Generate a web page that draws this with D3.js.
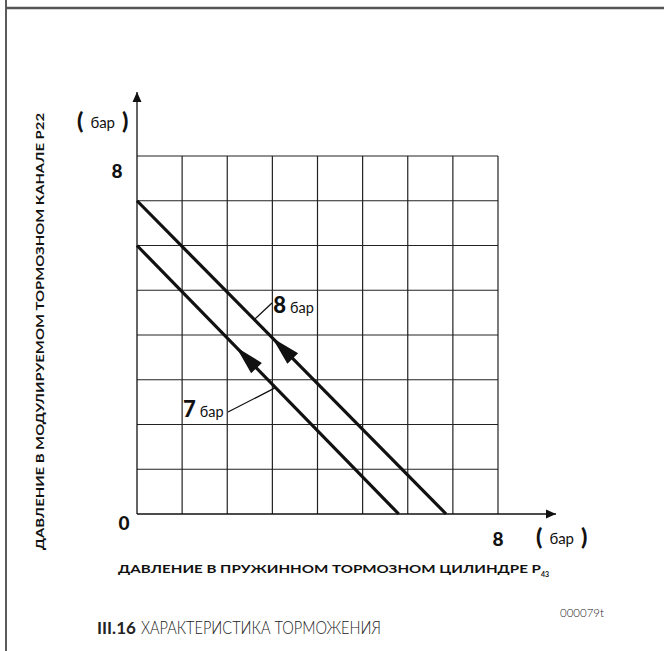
<!DOCTYPE html>
<meta charset="utf-8">
<style>
body { margin: 0; background: #fff; }
svg { display: block; font-family: Lato, 'Open Sans', sans-serif; }
.grid line { stroke: #222; stroke-width: 1.2; }
.curve { fill: none; stroke: #111; stroke-width: 3.2; }
.lbl { fill: #111; }
</style>
<body>
<div id="chart"></div>
<script src="https://cdnjs.cloudflare.com/ajax/libs/d3/7.8.5/d3.min.js"></script>
<script>
// grid ticks (bar) and the two characteristic lines
var gridTicks = [0, 1, 2, 3, 4, 5, 6, 7, 8];
var line8 = [[0, 7.0], [6.85, 0]];
var line7 = [[0, 6.0], [5.8, 0]];
var arrowAt = [3.0, 2.2];          // x-value of arrow tips, upper / lower line
var seriesNames = ['8', '7'];
var unit = 'бар';

var svg = d3.select('#chart').append('svg')
  .attr('width', 664)
  .attr('height', 651);

var x = d3.scaleLinear().domain([0, 8]).range([137, 498]);
var y = d3.scaleLinear().domain([0, 8]).range([514, 156]);

// page frame
svg.append('line').attr('x1', 6).attr('x2', 6).attr('y1', 0).attr('y2', 651)
  .attr('stroke', '#333').attr('stroke-width', 1.6);
svg.append('line').attr('x1', 6).attr('x2', 664).attr('y1', 8).attr('y2', 8)
  .attr('stroke', '#555').attr('stroke-width', 2.5);

// grid
var grid = svg.append('g').attr('class', 'grid');
grid.selectAll('.v').data(gridTicks.slice(1)).enter().append('line')
  .attr('x1', d => x(d)).attr('x2', d => x(d))
  .attr('y1', y(0)).attr('y2', y(8));
grid.selectAll('.h').data(gridTicks.slice(1)).enter().append('line')
  .attr('x1', x(0)).attr('x2', x(8))
  .attr('y1', d => y(d)).attr('y2', d => y(d));

// axes with arrows
svg.append('defs').append('marker')
  .attr('id', 'ah')
  .attr('viewBox', '-10 -5 10 10')
  .attr('refX', 0).attr('refY', 0)
  .attr('markerWidth', 10).attr('markerHeight', 10)
  .attr('markerUnits', 'userSpaceOnUse')
  .attr('orient', 'auto')
  .append('path').attr('d', 'M-10,-4.5L0,0L-10,4.5Z').attr('fill', '#111');

svg.append('line').attr('x1', x(0)).attr('x2', x(0))
  .attr('y1', y(0)).attr('y2', 92)
  .attr('stroke', '#111').attr('stroke-width', 1.3).attr('marker-end', 'url(#ah)');
svg.append('line').attr('x1', x(0)).attr('x2', 556)
  .attr('y1', y(0)).attr('y2', y(0))
  .attr('stroke', '#111').attr('stroke-width', 1.3).attr('marker-end', 'url(#ah)');

// characteristic lines
var lineGen = d3.line().x(d => x(d[0])).y(d => y(d[1]));
var series = [line8, line7];
svg.selectAll('.curve').data(series).enter().append('path')
  .attr('class', 'curve')
  .attr('d', lineGen);

// arrowheads pointing up-left along each line
series.forEach(function (s, i) {
  var p0 = [x(s[0][0]), y(s[0][1])], p1 = [x(s[1][0]), y(s[1][1])];
  var dx = p0[0] - p1[0], dy = p0[1] - p1[1];
  var len = Math.sqrt(dx * dx + dy * dy);
  var ux = dx / len, uy = dy / len;
  var t = arrowAt[i] / s[1][0];
  var tip = [p0[0] + (p1[0] - p0[0]) * t, p0[1] + (p1[1] - p0[1]) * t];
  var L = 29, W = 7.5;
  var base = [tip[0] - ux * L, tip[1] - uy * L];
  var pts = [tip,
    [base[0] - uy * W, base[1] + ux * W],
    [base[0] + uy * W, base[1] - ux * W]];
  svg.append('path').attr('d', 'M' + pts.join('L') + 'Z').attr('fill', '#111');
});

// series labels with leaders
var labels = [
  {name: seriesNames[0], tx: 3.02, ty: 4.49, from: [2.6, null], to: [272, 303]},
  {name: seriesNames[1], tx: 1.02, ty: 2.17, from: [3.07, null], to: [228, 412]}
];
labels.forEach(function (l, i) {
  var s = series[i];
  var slope = (s[1][1] - s[0][1]) / (s[1][0] - s[0][0]);
  var fy = s[0][1] + slope * l.from[0];
  svg.append('line')
    .attr('x1', x(l.from[0])).attr('y1', y(fy))
    .attr('x2', l.to[0]).attr('y2', l.to[1])
    .attr('stroke', '#111').attr('stroke-width', 1.3);
  var t = svg.append('text').attr('class', 'lbl')
    .attr('x', x(l.tx)).attr('y', y(l.ty));
  t.append('tspan').attr('font-size', 22).attr('font-weight', 900).text(l.name);
  t.append('tspan').attr('dx', 4).attr('font-size', 14.5).text(unit);
});

// axis numbers
function num(txt, px, py) {
  svg.append('text').attr('x', px).attr('y', py)
    .attr('text-anchor', 'middle').attr('font-size', 19).attr('font-weight', 900)
    .attr('fill', '#111').text(txt);
}
num(gridTicks[8], 117, 178);
num(gridTicks[0], 124, 530);
num(gridTicks[8], 498, 546);

function unitLabel(px, py) {
  var t = svg.append('text').attr('x', px).attr('y', py).attr('fill', '#111');
  t.append('tspan').attr('font-size', 23).attr('font-weight', 900).text('(');
  t.append('tspan').attr('dx', 7).attr('font-size', 15).attr('dy', -1).text(unit);
  t.append('tspan').attr('dx', 7).attr('font-size', 23).attr('font-weight', 900).attr('dy', 1).text(')');
}
unitLabel(77, 129);
unitLabel(536, 545);

// axis titles
var xt = svg.append('text').attr('x', 118).attr('y', 573)
  .attr('font-size', 12).attr('font-weight', 700).attr('fill', '#111');
xt.append('tspan').attr('textLength', 423).attr('lengthAdjust', 'spacingAndGlyphs')
  .text('ДАВЛЕНИЕ В ПРУЖИННОМ ТОРМОЗНОМ ЦИЛИНДРЕ Р');
xt.append('tspan').attr('font-size', 7).attr('dy', 4).text('43');

svg.append('text')
  .attr('transform', 'translate(44,550) rotate(-90)')
  .attr('font-size', 12).attr('font-weight', 700).attr('fill', '#111')
  .attr('textLength', 437).attr('lengthAdjust', 'spacingAndGlyphs')
  .text('ДАВЛЕНИЕ В МОДУЛИРУЕМОМ ТОРМОЗНОМ КАНАЛЕ Р22');

// caption
var cap = svg.append('text').attr('x', 97).attr('y', 634).attr('font-size', 17).attr('fill', '#222');
cap.append('tspan').attr('font-weight', 700).text('III.16');
cap.append('tspan').attr('dx', 5).attr('font-weight', 300)
  .attr('textLength', 240).attr('lengthAdjust', 'spacingAndGlyphs')
  .text('ХАРАКТЕРИСТИКА ТОРМОЖЕНИЯ');

svg.append('text').attr('x', 560).attr('y', 617).attr('font-size', 11.5)
  .attr('font-weight', 300).attr('fill', '#222').text('000079t');
</script>
</body>
